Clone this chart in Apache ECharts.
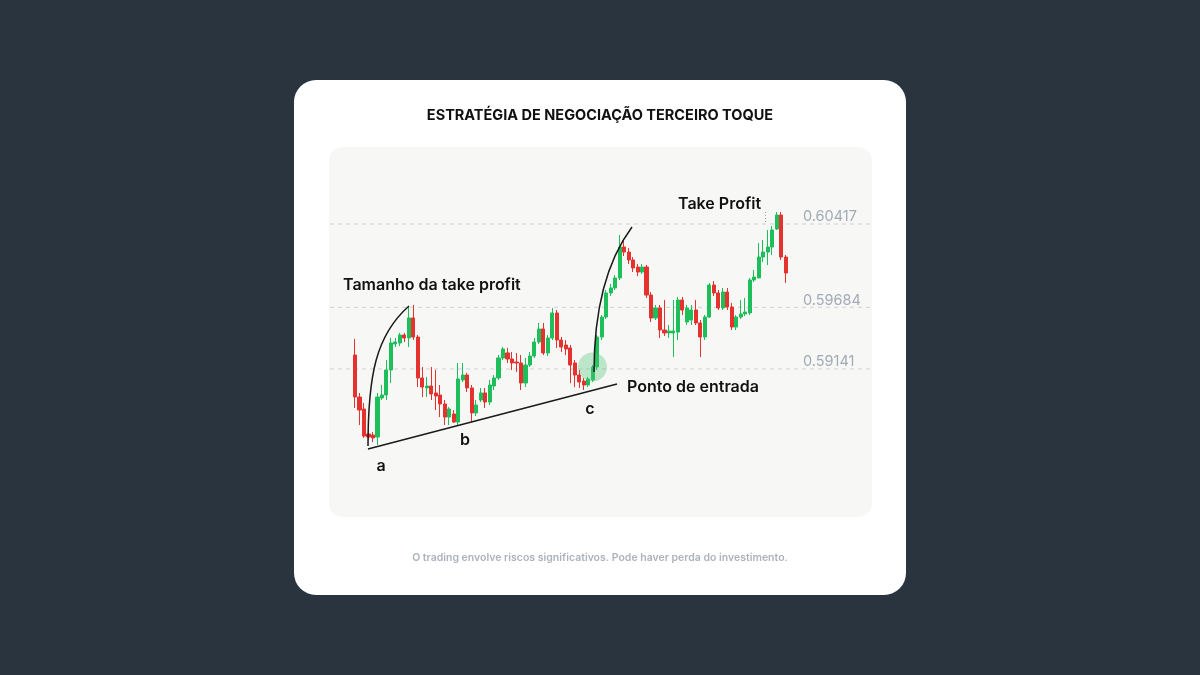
<!DOCTYPE html>
<html>
<head>
<meta charset="utf-8">
<style>
  html, body { margin: 0; padding: 0; background: #29343e; }
  #chart { width: 1200px; height: 675px; }
</style>
<script src="https://cdn.jsdelivr.net/npm/echarts@6/dist/echarts.min.js"></script>
</head>
<body>
<div id="chart"></div>
<script>
// ---- Data ----
const titleText = 'ESTRATÉGIA DE NEGOCIAÇÃO TERCEIRO TOQUE';
const footerText = 'O trading envolve riscos significativos. Pode haver perda do investimento.';

// price levels drawn as dashed reference lines
const levels = [0.60417, 0.59684, 0.59141];

// candles: open, close, low, high
const opens = [
  0.59264, 0.58894, 0.58789, 0.58569, 0.58560, 0.58542, 0.58886, 0.58912, 0.59132, 0.59361,
  0.59370, 0.59440, 0.59414, 0.59590, 0.59422, 0.59062, 0.58974, 0.58991, 0.58930, 0.58912,
  0.58833, 0.58718, 0.58745, 0.58674, 0.59044, 0.59088, 0.58974, 0.58754, 0.58868, 0.58930,
  0.58850, 0.58991, 0.59062, 0.59238, 0.59282, 0.59229, 0.59202, 0.59194, 0.59018, 0.59176,
  0.59255, 0.59378, 0.59493, 0.59282, 0.59414, 0.59634, 0.59396, 0.59352, 0.59326, 0.59194,
  0.59088, 0.59035, 0.59000, 0.59044, 0.59158, 0.59422, 0.59598, 0.59810, 0.59854, 0.59942,
  0.60214, 0.60170, 0.60100, 0.60038, 0.59994, 0.60038, 0.59792, 0.59590, 0.59678, 0.59484,
  0.59458, 0.59458, 0.59466, 0.59748, 0.59554, 0.59572, 0.59660, 0.59546, 0.59422, 0.59598,
  0.59880, 0.59810, 0.59678, 0.59818, 0.59686, 0.59510, 0.59598, 0.59625, 0.59634, 0.59924,
  0.59942, 0.60126, 0.60170, 0.60214, 0.60373, 0.60496, 0.60126
];
const closes = [
  0.58894, 0.58780, 0.58551, 0.58542, 0.58534, 0.58894, 0.58912, 0.59132, 0.59370, 0.59378,
  0.59440, 0.59414, 0.59590, 0.59422, 0.59062, 0.58982, 0.58991, 0.58921, 0.58903, 0.58833,
  0.58718, 0.58789, 0.58674, 0.59053, 0.59088, 0.58974, 0.58754, 0.58824, 0.58930, 0.58850,
  0.59000, 0.59062, 0.59238, 0.59317, 0.59229, 0.59194, 0.59194, 0.59018, 0.59176, 0.59255,
  0.59378, 0.59493, 0.59282, 0.59414, 0.59634, 0.59396, 0.59334, 0.59317, 0.59176, 0.59088,
  0.59026, 0.59000, 0.59053, 0.59158, 0.59422, 0.59598, 0.59810, 0.59854, 0.59942, 0.60214,
  0.60170, 0.60100, 0.60030, 0.59994, 0.60038, 0.59792, 0.59590, 0.59678, 0.59484, 0.59458,
  0.59475, 0.59475, 0.59748, 0.59660, 0.59678, 0.59660, 0.59546, 0.59422, 0.59598, 0.59880,
  0.59810, 0.59678, 0.59818, 0.59686, 0.59510, 0.59598, 0.59625, 0.59642, 0.59924, 0.59950,
  0.60126, 0.60170, 0.60214, 0.60364, 0.60496, 0.60126, 0.59986
];
const lows = [
  0.58798, 0.58648, 0.58534, 0.58516, 0.58498, 0.58472, 0.58868, 0.58868, 0.59018, 0.59334,
  0.59343, 0.59378, 0.59334, 0.59396, 0.58982, 0.58894, 0.58894, 0.58868, 0.58780, 0.58718,
  0.58648, 0.58648, 0.58666, 0.58648, 0.59026, 0.58938, 0.58674, 0.58727, 0.58850, 0.58798,
  0.58824, 0.58956, 0.59044, 0.59220, 0.59194, 0.59132, 0.59114, 0.58956, 0.58982, 0.59158,
  0.59238, 0.59361, 0.59264, 0.59255, 0.59396, 0.59326, 0.59290, 0.59264, 0.59018, 0.58982,
  0.58974, 0.58956, 0.58982, 0.59026, 0.59132, 0.59396, 0.59581, 0.59783, 0.59836, 0.59924,
  0.60135, 0.60065, 0.59994, 0.59959, 0.59977, 0.59766, 0.59554, 0.59572, 0.59414, 0.59431,
  0.59414, 0.59246, 0.59396, 0.59616, 0.59528, 0.59528, 0.59528, 0.59246, 0.59396, 0.59590,
  0.59783, 0.59660, 0.59660, 0.59660, 0.59484, 0.59484, 0.59581, 0.59607, 0.59616, 0.59906,
  0.60056, 0.60082, 0.60056, 0.60144, 0.60364, 0.60100, 0.59898
];
const highs = [
  0.59405, 0.58930, 0.58842, 0.58622, 0.58586, 0.58930, 0.59000, 0.59220, 0.59414, 0.59414,
  0.59458, 0.59458, 0.59686, 0.59704, 0.59440, 0.59158, 0.59070, 0.59158, 0.59132, 0.59000,
  0.58868, 0.58806, 0.58780, 0.59194, 0.59194, 0.59106, 0.59000, 0.58868, 0.58974, 0.58974,
  0.59044, 0.59088, 0.59264, 0.59334, 0.59326, 0.59290, 0.59282, 0.59264, 0.59238, 0.59290,
  0.59414, 0.59546, 0.59546, 0.59440, 0.59678, 0.59660, 0.59422, 0.59396, 0.59352, 0.59220,
  0.59132, 0.59062, 0.59070, 0.59176, 0.59440, 0.59616, 0.59836, 0.59889, 0.59968, 0.60320,
  0.60276, 0.60206, 0.60126, 0.60065, 0.60065, 0.60056, 0.59818, 0.59704, 0.59704, 0.59748,
  0.59528, 0.59748, 0.59774, 0.59774, 0.59704, 0.59704, 0.59748, 0.59572, 0.59616, 0.59898,
  0.59915, 0.59836, 0.59854, 0.59854, 0.59722, 0.59616, 0.59748, 0.59766, 0.59942, 0.60012,
  0.60250, 0.60276, 0.60364, 0.60399, 0.60522, 0.60522, 0.60144
];
const categories = opens.map((_, i) => String(i + 1));

// ---- Build ----
const candleData = opens.map((o, i) => [o, closes[i], lows[i], highs[i]]);
const Y_MIN = 0.58340, Y_MAX = 0.60628;
const FONT = 'Inter, "Open Sans", sans-serif';
const GREEN = '#1dbf5a', RED = '#e5322f';

const chart = echarts.init(document.getElementById('chart'), null, { renderer: 'canvas' });

const annText = (x, y, text, align) => ({
  type: 'text', z: 100, x: x, y: y,
  style: { text: text, fill: '#111111', font: '600 16px ' + FONT, textAlign: align || 'left', textVerticalAlign: 'middle' }
});

const levelSeries = levels.map(v => ({
  type: 'line', xAxisIndex: 1, yAxisIndex: 1, silent: true, z: 1,
  data: [[0, v], [1, v]],
  symbol: 'none',
  lineStyle: { color: '#cdd1d7', width: 1, type: [4, 4] },
  endLabel: {
    show: true, align: 'left', verticalAlign: 'middle', offset: [-76, -7],
    formatter: () => v.toFixed(5),
    color: '#a2aab8', fontFamily: FONT, fontSize: 14.5
  }
}));

chart.setOption({
  backgroundColor: '#29343e',
  animation: false,
  title: [
    { text: titleText, left: 'center', top: 103,
      textStyle: { fontFamily: FONT, fontSize: 14.5, fontWeight: 700, color: '#111111' } },
    { text: footerText, left: 'center', top: 547,
      textStyle: { fontFamily: FONT, fontSize: 10.5, fontWeight: 600, color: '#adb3bc' } }
  ],
  grid: [
    { left: 352.8, width: 435, top: 200, height: 260 },
    { left: 330, width: 541, top: 200, height: 260 }
  ],
  xAxis: [
    { type: 'category', data: categories, gridIndex: 0, show: false, boundaryGap: true },
    { type: 'value', gridIndex: 1, min: 0, max: 1, show: false }
  ],
  yAxis: [
    { type: 'value', gridIndex: 0, min: Y_MIN, max: Y_MAX, show: false },
    { type: 'value', gridIndex: 1, min: Y_MIN, max: Y_MAX, show: false }
  ],
  graphic: [
    { type: 'rect', z: -10, shape: { x: 294, y: 80, width: 612, height: 515, r: 22 }, style: { fill: '#ffffff' } },
    { type: 'rect', z: -9, shape: { x: 329, y: 147, width: 543, height: 370, r: 14 }, style: { fill: '#f7f7f5' } },
    // trend line a-b-c
    { type: 'line', z: 100, shape: { x1: 368, y1: 449, x2: 617, y2: 384 }, style: { stroke: '#1a1a1a', lineWidth: 1.5 } },
    // take profit size arcs
    { type: 'bezierCurve', z: 100, shape: { x1: 368, y1: 446, cpx1: 368, cpy1: 375, cpx2: 376, cpy2: 335, x2: 409, y2: 306 },
      style: { stroke: '#1a1a1a', lineWidth: 1.5, fill: null } },
    { type: 'bezierCurve', z: 100, shape: { x1: 594, y1: 372, cpx1: 594, cpy1: 310, cpx2: 606, cpy2: 262, x2: 632, y2: 227 },
      style: { stroke: '#1a1a1a', lineWidth: 1.5, fill: null } },
    // take profit marker
    { type: 'line', z: 100, shape: { x1: 765.5, y1: 212, x2: 765.5, y2: 223 }, style: { stroke: '#9aa0a8', lineWidth: 1, lineDash: [1, 2] } },
    // entry highlight
    { type: 'circle', z: 90, shape: { cx: 592.5, cy: 367, r: 14.5 }, style: { fill: 'rgba(80,195,120,0.35)' } },
    annText(343, 285, 'Tamanho da take profit'),
    annText(678, 204, 'Take Profit'),
    annText(627, 387, 'Ponto de entrada'),
    annText(381, 466, 'a', 'center'),
    annText(465, 440, 'b', 'center'),
    annText(590, 409, 'c', 'center')
  ],
  series: levelSeries.concat([
    {
      type: 'candlestick', xAxisIndex: 0, yAxisIndex: 0,
      data: candleData, barWidth: 3.6, z: 5,
      itemStyle: { color: GREEN, color0: RED, borderColor: GREEN, borderColor0: RED, borderWidth: 1 }
    }
  ])
});
</script>
</body>
</html>
